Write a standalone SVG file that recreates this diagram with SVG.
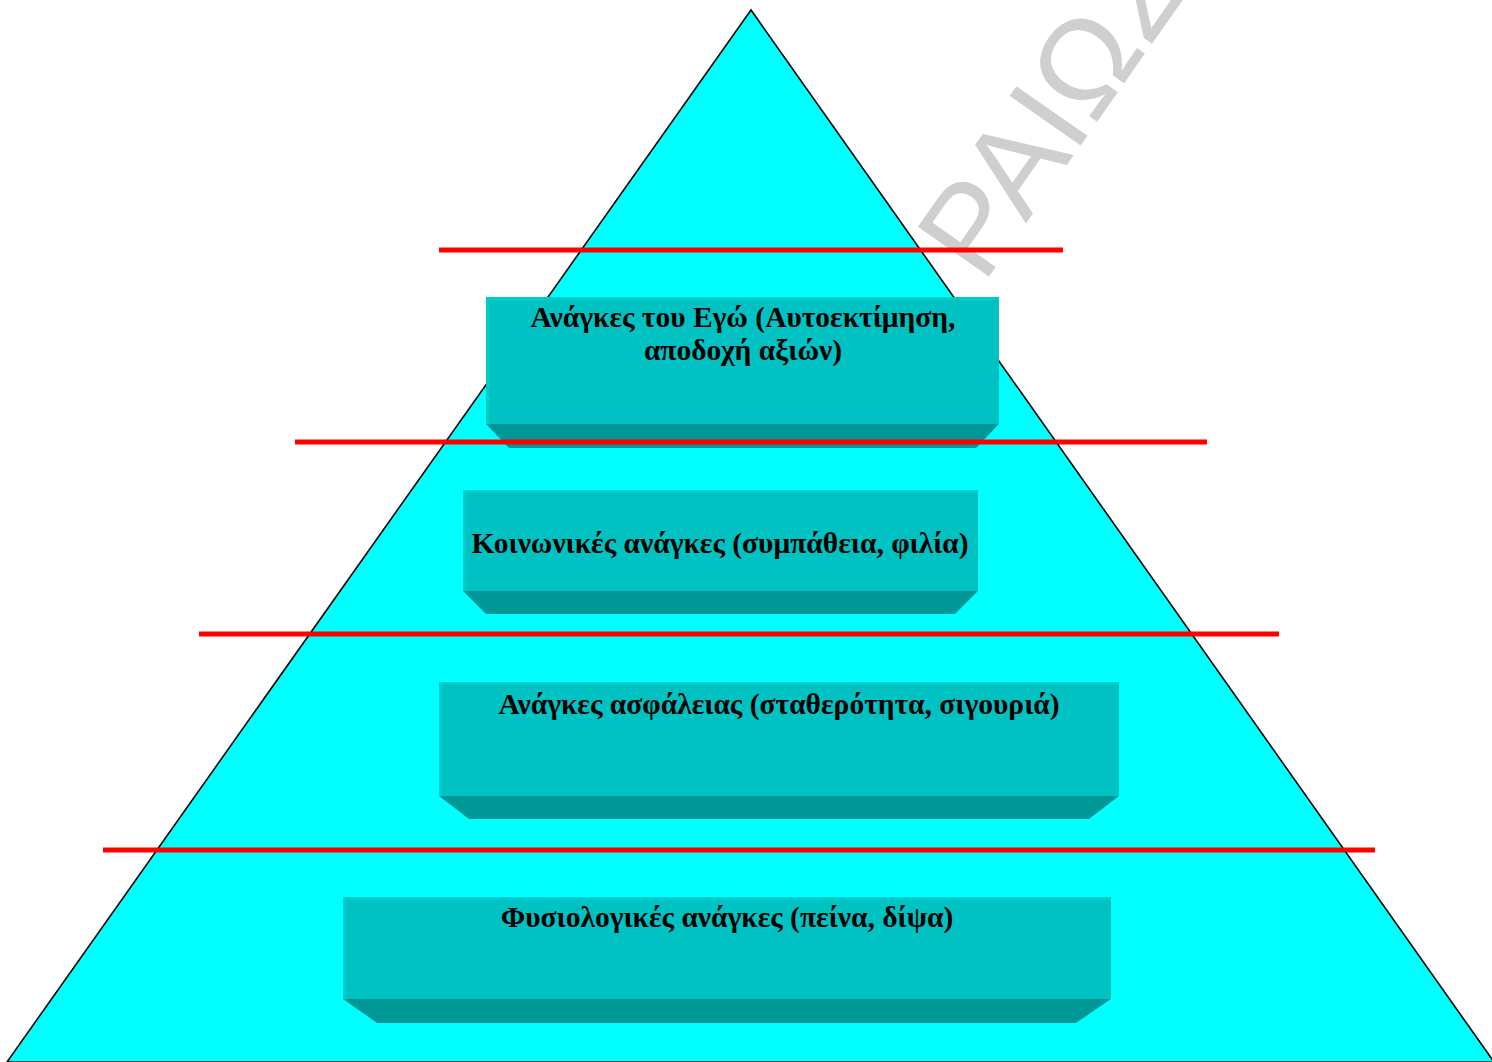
<svg xmlns="http://www.w3.org/2000/svg" width="1492" height="1062" viewBox="0 0 1492 1062">
  <style>
    .face { fill: #00c2c2; }
    .rim { fill: #00cccc; }
    .bevel { fill: #009797; }
    .label { font-family: "Liberation Serif", "Times New Roman", serif; font-weight: bold; font-size: 29.5px; fill: #000; text-anchor: middle; }
    .divider { stroke: #ff0000; stroke-width: 5; fill: none; }
    .mark { font-family: "Liberation Sans", Arial, sans-serif; font-size: 126px; fill: #cfcfcf; }
  </style>

  <rect x="0" y="0" width="1492" height="1062" fill="#ffffff"/>

  <!-- background watermark, partly hidden behind the pyramid -->
  <text class="mark" transform="translate(983,285) rotate(-55)">ΡΑΙΩΣ</text>

  <!-- pyramid -->
  <polygon id="pyramid" points="751,10 7,1062 1494,1062" fill="#00ffff" stroke="#000" stroke-width="1.6"/>

  <!-- level 4: ego needs -->
  <g id="ego-needs">
    <rect class="face" x="486" y="297" width="513" height="127"/>
    <rect class="rim" x="486" y="297" width="513" height="3"/>
    <rect class="rim" x="486" y="297" width="3" height="127"/>
    <polygon class="bevel" points="486,424 999,424 976,448 509,448"/>
    <text class="label" x="743" y="327">Ανάγκες του Εγώ (Αυτοεκτίμηση,</text>
    <text class="label" x="743" y="360">αποδοχή αξιών)</text>
  </g>

  <!-- level 3: social needs -->
  <g id="social-needs">
    <rect class="face" x="463" y="490" width="515" height="101"/>
    <rect class="rim" x="463" y="490" width="515" height="3"/>
    <rect class="rim" x="463" y="490" width="3" height="101"/>
    <polygon class="bevel" points="463,591 978,591 955,614 486,614"/>
    <text class="label" x="720" y="553">Κοινωνικές ανάγκες (συμπάθεια, φιλία)</text>
  </g>

  <!-- level 2: safety needs -->
  <g id="safety-needs">
    <rect class="face" x="439" y="682" width="680" height="114"/>
    <rect class="rim" x="439" y="682" width="680" height="3"/>
    <rect class="rim" x="439" y="682" width="3" height="114"/>
    <polygon class="bevel" points="439,796 1119,796 1089,819 469,819"/>
    <text class="label" x="779" y="714">Ανάγκες ασφάλειας (σταθερότητα, σιγουριά)</text>
  </g>

  <!-- level 1: physiological needs -->
  <g id="physiological-needs">
    <rect class="face" x="343" y="897" width="768" height="102"/>
    <rect class="rim" x="343" y="897" width="768" height="3"/>
    <rect class="rim" x="343" y="897" width="3" height="102"/>
    <polygon class="bevel" points="343,999 1111,999 1076,1023 377,1023"/>
    <text class="label" x="727" y="927">Φυσιολογικές ανάγκες (πείνα, δίψα)</text>
  </g>

  <!-- level separators -->
  <g id="connectors">
    <line class="divider" x1="439" y1="250" x2="1063" y2="250"/>
    <line class="divider" x1="295" y1="442" x2="1207" y2="442"/>
    <line class="divider" x1="199" y1="634" x2="1279" y2="634"/>
    <line class="divider" x1="103" y1="850" x2="1375" y2="850"/>
  </g>
</svg>
